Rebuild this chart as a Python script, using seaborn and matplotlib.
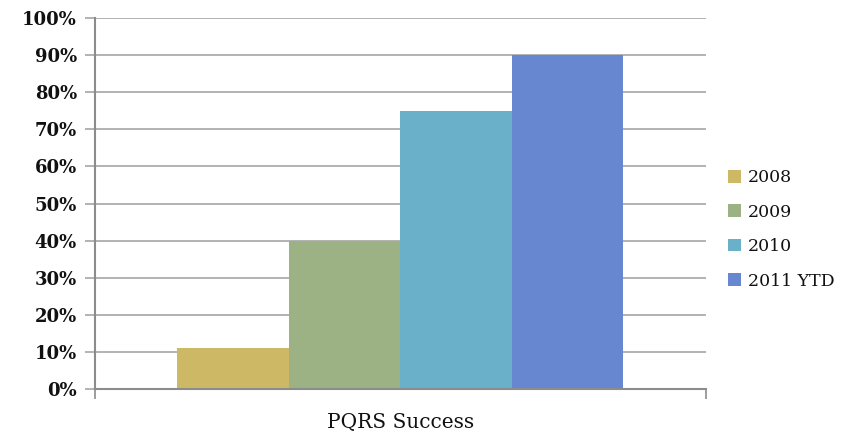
import pandas as pd
import seaborn as sns
import matplotlib.pyplot as plt
from matplotlib.ticker import PercentFormatter

# chart values
category = ["PQRS Success"]
years = ["2008", "2009", "2010", "2011 YTD"]
success = [11, 40, 75, 90]
colors = ["#CDB866", "#9DB284", "#69B0C8", "#6787D0"]

df = pd.DataFrame({
    "Measure": category * len(years),
    "Year": years,
    "Success": success,
})

sns.set_style("white")
plt.rcParams["font.family"] = ["DejaVu Serif", "Liberation Serif"]

fig = plt.figure(figsize=(8.52, 4.41), dpi=100)
ax = fig.add_axes([0.1115, 0.118, 0.717, 0.841])

sns.barplot(data=df, x="Measure", y="Success", hue="Year",
            palette=colors, width=0.73, saturation=1, ax=ax,
            edgecolor="none", linewidth=0)

ax.set_xlim(-0.5, 0.5)
ax.set_ylim(0, 100)
ax.set_yticks(range(0, 101, 10))
ax.yaxis.set_major_formatter(PercentFormatter(decimals=0))
ax.grid(axis="y", color="#A6A6A6", linewidth=1.2)
ax.set_axisbelow(True)

for side in ["top", "right"]:
    ax.spines[side].set_visible(False)
for side in ["left", "bottom"]:
    ax.spines[side].set_color("#8C8C8C")
    ax.spines[side].set_linewidth(1.5)

ax.tick_params(axis="y", left=True, length=7, width=1.2, color="#A6A6A6",
               labelsize=13, pad=6, labelcolor="#111111")
ax.tick_params(axis="x", bottom=False, labelsize=14.5, pad=14,
               labelcolor="#111111")
for lbl in ax.get_yticklabels():
    lbl.set_fontweight("bold")

# category boundary ticks on the x axis
ax.set_xticks([-0.5, 0.5], minor=True)
ax.tick_params(axis="x", which="minor", bottom=True, length=7, width=1.2,
               color="#8C8C8C")

ax.set_xlabel("")
ax.set_ylabel("")

leg = ax.legend(loc="center left", bbox_to_anchor=(1.01, 0.43), frameon=False,
                fontsize=12.5, handlelength=0.75, handleheight=0.75,
                labelspacing=1.0, handletextpad=0.4)
for t in leg.get_texts():
    t.set_color("#111111")

fig.savefig("out.png", dpi=100)
